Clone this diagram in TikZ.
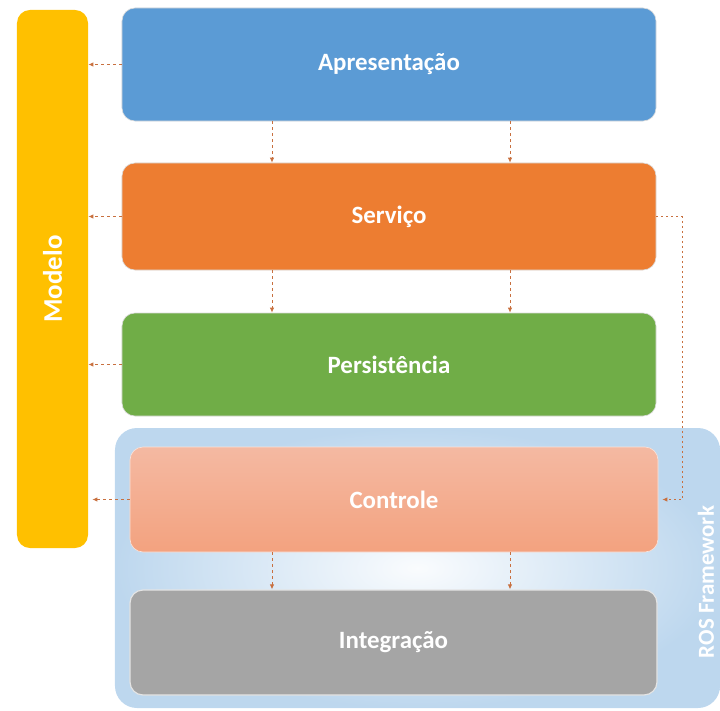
\documentclass[tikz,border=0pt]{standalone}
\usepackage{fontspec}
\setmainfont{Carlito}
\usetikzlibrary{arrows.meta,calc}
\definecolor{cYellow}{HTML}{FFC000}
\definecolor{cBlue}{HTML}{5B9BD5}
\definecolor{cOrange}{HTML}{ED7D31}
\definecolor{cGreen}{HTML}{70AD47}
\definecolor{cGray}{HTML}{A5A5A5}
\definecolor{cSalmonTop}{HTML}{F4B9A2}
\definecolor{cSalmonBot}{HTML}{F3A27F}
\definecolor{cRosOut}{HTML}{BDD7EE}
\definecolor{cArrow}{HTML}{C8703F}
\tikzset{
  layer/.style={rectangle, rounded corners=13bp, draw=white!85!black, line width=0.6bp,
    text=white, font=\fontsize{25}{28}\selectfont\bfseries, inner sep=0pt},
  conn/.style={draw=cArrow, line width=0.9bp, dash pattern=on 3bp off 3bp,
    -{Latex[length=5bp,width=4.5bp]}},
}
\begin{document}
\begin{tikzpicture}[x=1bp,y=-1bp]
\useasboundingbox (0,0) rectangle (720,711);
% ROS framework container
\node[rectangle, rounded corners=22bp, inner color=white!92!cRosOut, outer color=cRosOut,
  minimum width=605bp, minimum height=280bp, inner sep=0pt] (ros) at (417.5,568) {};
\node[rotate=90, text=white, font=\fontsize{23}{26}\selectfont\bfseries] (roslbl) at (706,582) {ROS Framework};
% Modelo bar
\node[layer, fill=cYellow, draw=none, minimum width=71bp, minimum height=538bp] (modelo) at (52.5,279) {};
\node[rotate=90, text=white, font=\fontsize{27}{30}\selectfont\bfseries] (modlbl) at (modelo.center) {Modelo};
% layers
\node[layer, fill=cBlue, minimum width=534bp, minimum height=113bp] (apres) at (389,64.5) {Apresentação};
\node[layer, fill=cOrange, minimum width=534bp, minimum height=107bp] (serv) at (389,216.5) {Serviço};
\node[layer, fill=cGreen, minimum width=534bp, minimum height=103bp] (pers) at (389,364.5) {Persistência};
\node[layer, top color=cSalmonTop, bottom color=cSalmonBot, draw=white!60!cSalmonTop, minimum width=528bp, minimum height=105bp] (ctrl) at (394,499.5) {Controle};
\node[layer, fill=cGray, draw=white!70!cGray, line width=1.2bp, minimum width=527bp, minimum height=105bp] (integ) at (393.5,642.5) {Integração};
% guide coordinates for vertical connectors
\coordinate (ga) at (272,0);
\coordinate (gb) at (510,0);
% vertical connectors
\draw[conn] (apres.south -| ga) -- (serv.north -| ga);
\draw[conn] (apres.south -| gb) -- (serv.north -| gb);
\draw[conn] (serv.south -| ga) -- (pers.north -| ga);
\draw[conn] (serv.south -| gb) -- (pers.north -| gb);
\draw[conn] (ctrl.south -| ga) -- (integ.north -| ga);
\draw[conn] (ctrl.south -| gb) -- (integ.north -| gb);
% connectors to Modelo
\draw[conn] (apres.west) -- (modelo.east |- apres.west);
\draw[conn] (serv.west) -- (modelo.east |- serv.west);
\draw[conn] (pers.west) -- (modelo.east |- pers.west);
\draw[conn] (ctrl.west) -- ([xshift=4bp]modelo.east |- ctrl.west);
% Serviço to Controle on the right
\coordinate (gr) at (682,0);
\draw[conn, dash pattern=on 2bp off 3bp] (serv.east) -- (serv.east -| gr) -- (ctrl.east -| gr) -- ([xshift=4bp]ctrl.east);
\end{tikzpicture}
\end{document}
